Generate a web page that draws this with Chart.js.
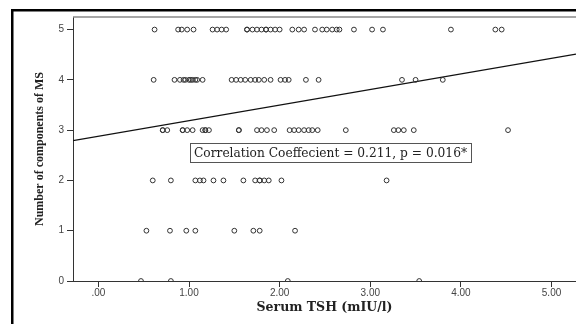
<!DOCTYPE html>
<html>
<head>
<meta charset="utf-8">
<script src="https://cdn.jsdelivr.net/npm/chart.js@4.4.1/dist/chart.umd.min.js"></script>
<style>
    html, body { margin: 0; padding: 0; background: #fff; }
    #wrap { width: 576px; height: 324px; }
</style>
</head>
<body>
<div id="wrap"><canvas id="chart" width="576" height="324"></canvas></div>
<script>
// --- Data ---
// Serum TSH values for each number of MS components
const tshMs0 = [0.47, 0.80, 2.09, 3.54];
const tshMs1 = [0.53, 0.79, 0.97, 1.07, 1.50, 1.71, 1.78, 2.17];
const tshMs2 = [0.60, 0.80, 1.07, 1.12, 1.16, 1.27, 1.38, 1.60, 1.73, 1.78, 1.78, 1.83, 1.88, 2.02, 3.18];
const tshMs3 = [0.71, 0.71, 0.76, 0.93, 0.93, 0.98, 1.04, 1.15, 1.18, 1.18, 1.22, 1.55, 1.55, 1.75, 1.80,
                1.86, 1.94, 2.11, 2.16, 2.21, 2.27, 2.32, 2.36, 2.42, 2.73, 3.26, 3.31, 3.37, 3.48, 4.52];
const tshMs4 = [0.61, 0.84, 0.90, 0.94, 0.96, 1.00, 1.02, 1.04, 1.07, 1.09, 1.15, 1.47, 1.52, 1.57, 1.62,
                1.68, 1.73, 1.77, 1.83, 1.90, 2.01, 2.06, 2.10, 2.29, 2.43, 3.35, 3.50, 3.80];
const tshMs5 = [0.62, 0.88, 0.92, 0.98, 1.05, 1.26, 1.31, 1.36, 1.41, 1.64, 1.64, 1.70, 1.75, 1.80, 1.85,
                1.85, 1.90, 1.95, 2.00, 2.14, 2.21, 2.27, 2.39, 2.47, 2.52, 2.58, 2.63, 2.66, 2.82, 3.02,
                3.14, 3.89, 4.38, 4.45];
const msCounts = [0, 1, 2, 3, 4, 5];
const tshRows = [tshMs0, tshMs1, tshMs2, tshMs3, tshMs4, tshMs5];

// fit line end points
const fitX = [-0.28, 5.27];
const fitY = [2.79, 4.51];

const xTicks = [0, 1, 2, 3, 4, 5];
const yTicks = [0, 1, 2, 3, 4, 5];

const xTitle = 'Serum TSH (mIU/l)';
const yTitle = 'Number of components of MS';
const noteText = 'Correlation Coeffecient = 0.211, p = 0.016*';

// --- Build scatter points ---
const points = [];
msCounts.forEach((count, i) => {
    tshRows[i].forEach(v => points.push({ x: v, y: count }));
});

// --- Plugins ---
const framePlugin = {
    id: 'frame',
    beforeDraw(chart) {
        const ctx = chart.ctx;
        ctx.save();
        ctx.fillStyle = '#fff';
        ctx.fillRect(0, 0, chart.width, chart.height);
        // outer black border (cut at right and bottom)
        ctx.fillStyle = '#000';
        ctx.fillRect(11, 9, chart.width, 2.5);
        ctx.fillRect(11, 9, 2.5, chart.height);
        ctx.restore();
    },
    beforeDatasetsDraw(chart) {
        const ctx = chart.ctx;
        const a = chart.chartArea;
        ctx.save();
        ctx.strokeStyle = '#888';
        ctx.lineWidth = 1.5;
        ctx.beginPath();
        ctx.moveTo(a.left, a.top);
        ctx.lineTo(a.right, a.top);
        ctx.stroke();
        ctx.restore();
    }
};

const notePlugin = {
    id: 'note',
    afterDatasetsDraw(chart) {
        const ctx = chart.ctx;
        ctx.save();
        // size the font so the note spans about 273px like the original
        ctx.font = '12px "DejaVu Serif"';
        const size = Math.min(13, 12 * 273 / ctx.measureText(noteText).width);
        ctx.font = size.toFixed(2) + 'px "DejaVu Serif"';
        const w = ctx.measureText(noteText).width;
        const cx = 330.5, cy = 153;
        const left = Math.round(cx - w / 2 - 4) + 0.5;
        ctx.fillStyle = '#fff';
        ctx.fillRect(left, cy - 9.5, Math.round(w + 8), 19);
        ctx.strokeStyle = '#555';
        ctx.lineWidth = 1;
        ctx.strokeRect(left, cy - 9.5, Math.round(w + 8), 19);
        ctx.fillStyle = '#222';
        ctx.textAlign = 'center';
        ctx.textBaseline = 'middle';
        ctx.fillText(noteText, cx, cy + 1);
        ctx.restore();
    }
};

// --- Chart ---
Chart.defaults.font.family = '"Liberation Sans", Arial, sans-serif';

new Chart(document.getElementById('chart'), {
    type: 'scatter',
    data: {
        datasets: [{
            data: points,
            pointRadius: 2.4,
            pointBorderWidth: 1,
            pointBorderColor: '#333',
            pointBackgroundColor: 'rgba(0,0,0,0)',
            clip: 0
        }, {
            type: 'line',
            data: fitX.map((x, i) => ({ x: x, y: fitY[i] })),
            borderColor: '#111',
            borderWidth: 1.2,
            pointRadius: 0,
            fill: false,
            clip: 0
        }]
    },
    options: {
        responsive: false,
        animation: false,
        layout: {
            autoPadding: false,
            padding: { top: 17, left: 0, right: 0, bottom: 0 }
        },
        plugins: {
            legend: { display: false },
            tooltip: { enabled: false }
        },
        scales: {
            x: {
                type: 'linear',
                min: -0.28,
                max: 5.27,
                afterBuildTicks: s => { s.ticks = xTicks.map(v => ({ value: v })); },
                afterFit: s => {
                    s.height = 43;
                    s.paddingLeft = 0;
                    s.paddingRight = 0;
                },
                border: { color: '#333', width: 1 },
                grid: { drawOnChartArea: false, color: '#333', tickLength: 6 },
                ticks: {
                    color: '#444',
                    font: { size: 10 },
                    padding: 0,
                    maxRotation: 0,
                    callback: v => v === 0 ? '.00' : v.toFixed(2)
                },
                title: {
                    display: true,
                    text: xTitle,
                    color: '#222',
                    font: { family: '"DejaVu Serif"', size: 12.5, weight: 'bold' },
                    padding: { top: 0, bottom: 9 }
                }
            },
            y: {
                type: 'linear',
                min: 0,
                max: 5.25,
                afterBuildTicks: s => { s.ticks = yTicks.map(v => ({ value: v })); },
                afterFit: s => { s.width = 73; },
                border: { color: '#333', width: 1 },
                grid: { drawOnChartArea: false, color: '#333', tickLength: 6 },
                ticks: {
                    color: '#444',
                    font: { size: 10 },
                    padding: 3
                },
                title: {
                    display: true,
                    text: yTitle,
                    color: '#222',
                    font: { family: '"Liberation Serif"', size: 12, weight: 'bold' },
                    padding: { top: 33, bottom: 0 }
                }
            }
        }
    },
    plugins: [framePlugin, notePlugin]
});
</script>
</body>
</html>
